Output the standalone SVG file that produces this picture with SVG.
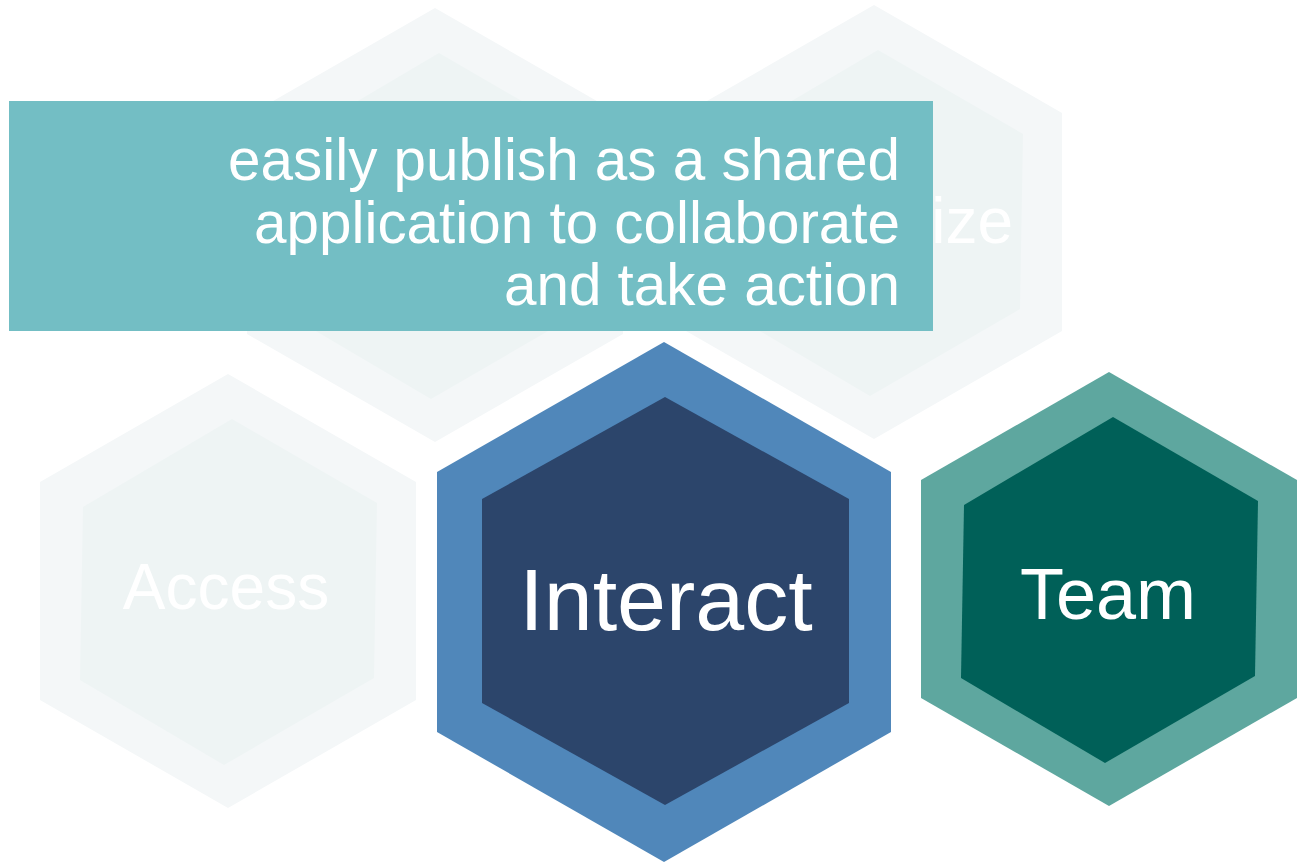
<svg xmlns="http://www.w3.org/2000/svg" xmlns:xlink="http://www.w3.org/1999/xlink" width="1297" height="865" viewBox="0 0 1297 865">
  <style>
    .fadeOuter { fill: #f4f7f8; }
    .fadeInner { fill: #eef4f4; }
    .fadeLabel { font-family: "Liberation Sans", Arial, sans-serif; font-size: 64px; fill: #ffffff; text-anchor: middle; }
    .label { font-family: "Liberation Sans", Arial, sans-serif; fill: #ffffff; text-anchor: middle; }
    .callout { fill: #73bec4; }
    .calloutText { font-family: "Liberation Sans", Arial, sans-serif; font-size: 58.4px; fill: #ffffff; text-anchor: end; }
  </style>
  <defs>
    <polygon id="hexOuter" points="0,-217 188,-109 188,109 0,217 -188,109 -188,-109"/>
    <polygon id="hexInner" points="4,-172 149,-88 146,87 -4,174 -148,89 -145,-84"/>
  </defs>
  <rect width="1297" height="865" fill="#ffffff"/>

  <g id="node-topleft" transform="translate(435,225)">
    <use xlink:href="#hexOuter" class="fadeOuter"/>
    <use xlink:href="#hexInner" class="fadeInner"/>
  </g>

  <g id="node-topright" transform="translate(874,222)">
    <use xlink:href="#hexOuter" class="fadeOuter"/>
    <use xlink:href="#hexInner" class="fadeInner"/>
    <text class="fadeLabel" x="139" y="21" style="text-anchor:end">ize</text>
  </g>

  <g id="node-access" transform="translate(228,591)">
    <use xlink:href="#hexOuter" class="fadeOuter"/>
    <use xlink:href="#hexInner" class="fadeInner"/>
    <text class="fadeLabel" x="-2" y="18">Access</text>
  </g>

  <g id="node-interact">
    <polygon points="664,342 891,472 891,732 664,862 437,732 437,472" fill="#5087ba"/>
    <polygon points="665,397 849,499 849,703 665,805 482,703 482,499" fill="#2c456b"/>
    <text class="label" x="666" y="630" font-size="88">Interact</text>
  </g>

  <g id="node-team" transform="translate(1109,589)">
    <use xlink:href="#hexOuter" fill="#5ea79f"/>
    <use xlink:href="#hexInner" fill="#006058"/>
    <text class="label" x="-1" y="30" font-size="72">Team</text>
  </g>

  <g id="node-callout">
    <rect class="callout" x="9" y="101" width="924" height="230"/>
    <text class="calloutText" x="900" y="180">easily publish as a shared</text>
    <text class="calloutText" x="900" y="243">application to collaborate</text>
    <text class="calloutText" x="900" y="305">and take action</text>
  </g>

  <g id="connectors"></g>
</svg>
